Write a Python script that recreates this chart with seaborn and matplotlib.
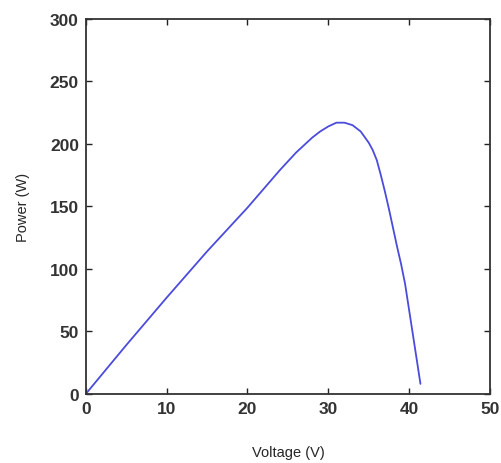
import matplotlib
matplotlib.use("Agg")
import matplotlib.pyplot as plt
import seaborn as sns
import pandas as pd

# кривая мощности солнечной панели P(V)
voltage = [0, 5, 10, 15, 20, 22, 24, 26, 28, 29, 30, 31, 32, 33, 34, 35, 35.5, 36,
           36.5, 37, 37.5, 38, 38.5, 39, 39.5, 40, 40.5, 41, 41.4]
power = [0, 39, 77, 114, 149, 164, 179, 193, 205, 210, 214, 217, 217, 215, 210, 201, 195, 187,
         175, 162, 148, 133, 118, 104, 88, 67, 46, 25, 8]

xticks = [0, 10, 20, 30, 40, 50]
yticks = [0, 50, 100, 150, 200, 250, 300]

df = pd.DataFrame({"V": voltage, "P": power})

sns.set_style("ticks")
plt.rcParams["font.family"] = ["Liberation Sans", "DejaVu Sans"]

fig = plt.figure(figsize=(5.02, 4.64), dpi=100)
ax = fig.add_axes([0.171, 0.149, 0.805, 0.808])

sns.lineplot(data=df, x="V", y="P", ax=ax, color="#4b4bdc", linewidth=1.3, sort=False)

ax.set_xlim(0, 50)
ax.set_ylim(0, 300)
ax.set_xticks(xticks)
ax.set_yticks(yticks)
ax.tick_params(direction="in", length=4, width=1, top=True, right=True,
               labelsize=12.5, colors="#222222", pad=5)
for lab in ax.get_xticklabels() + ax.get_yticklabels():
    lab.set_fontweight("bold")
    lab.set_color("#333333")
for sp in ax.spines.values():
    sp.set_linewidth(1.3)
    sp.set_color("#333333")

ax.set_xlabel("Voltage (V)", fontsize=10.5, labelpad=21)
ax.set_ylabel("Power (W)", fontsize=10.5, labelpad=14)

fig.savefig("out.png", dpi=100)
